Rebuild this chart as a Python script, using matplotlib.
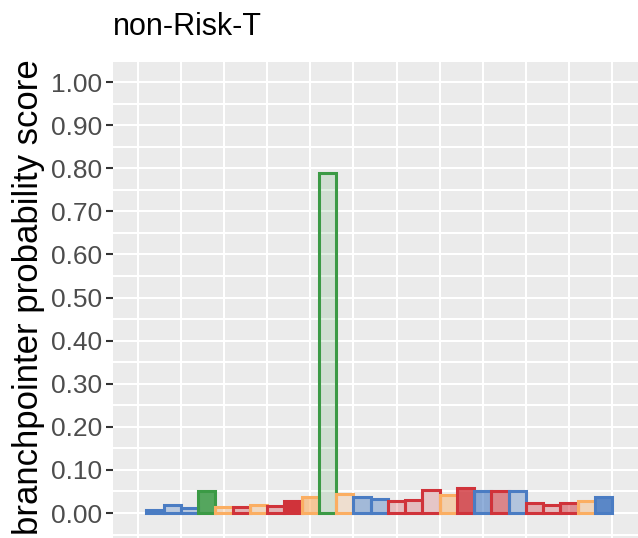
import numpy as np
import matplotlib.pyplot as plt

plt.rcParams['font.family'] = ['Liberation Sans', 'DejaVu Sans']

# one bar per position, coloured by nucleotide, fill strength per bar
positions = np.arange(1, 28)
scores = [0.008, 0.018, 0.012, 0.050, 0.014, 0.013, 0.018, 0.017, 0.028, 0.037,
          0.790, 0.044, 0.036, 0.033, 0.029, 0.030, 0.053, 0.042, 0.057, 0.050,
          0.050, 0.050, 0.024, 0.019, 0.024, 0.029, 0.036]
bases = ['C', 'C', 'C', 'A', 'G', 'T', 'G', 'T', 'T', 'G',
         'A', 'G', 'C', 'C', 'T', 'T', 'T', 'G', 'T', 'C',
         'T', 'C', 'T', 'T', 'T', 'G', 'C']
fill_alpha = [1.0, 0.3, 0.3, 0.85, 0.3, 0.3, 0.3, 0.3, 1.0, 0.6,
              0.15, 0.2, 0.45, 0.4, 0.25, 0.25, 0.2, 0.45, 0.8, 0.6,
              0.55, 0.35, 0.35, 0.25, 0.5, 0.35, 0.9]
base_colours = {'A': '#3b9a45', 'C': '#4a7cc3', 'G': '#fbae62', 'T': '#d0333a'}

yticks = np.arange(0, 1.01, 0.1)

fig = plt.figure(figsize=(6.38, 5.38), dpi=100)
ax = fig.add_axes([113.3 / 638, 0, 1 - 113.3 / 638, 1 - 61 / 538])
ax.set_facecolor('#ebebeb')

for v in np.arange(0, 30, 2.5):
    ax.axvline(v, color='white', lw=1.5, zorder=0)
for v in np.arange(-0.05, 1.06, 0.05):
    ax.axhline(v, color='white', lw=1.5, zorder=0)

for x, s, b, a in zip(positions, scores, bases, fill_alpha):
    c = base_colours[b]
    ax.bar(x, s, width=1.0, color=c, alpha=a, linewidth=0, zorder=2)
    ax.bar(x, s, width=1.0, fill=False, edgecolor=c, linewidth=2.2, zorder=3)

ax.set_xlim(-1.42, 29.0)
ax.set_ylim(-0.058, 1.049)
ax.set_xticks([])
ax.set_yticks(yticks)
ax.set_yticklabels(['%.2f' % t for t in yticks])
ax.tick_params(axis='y', labelsize=19, labelcolor='#4d4d4d', color='#333333',
               length=5, width=1.5, pad=3)
for sp in ax.spines.values():
    sp.set_visible(False)

fig.text(29 / 638, 1 - 297 / 538, 'branchpointer probability score', fontsize=25,
         rotation=90, ha='center', va='center')
fig.text(113 / 638, 1 - 27 / 538, 'non-Risk-T', fontsize=22, va='center', ha='left')

fig.savefig('out.png', dpi=100)
